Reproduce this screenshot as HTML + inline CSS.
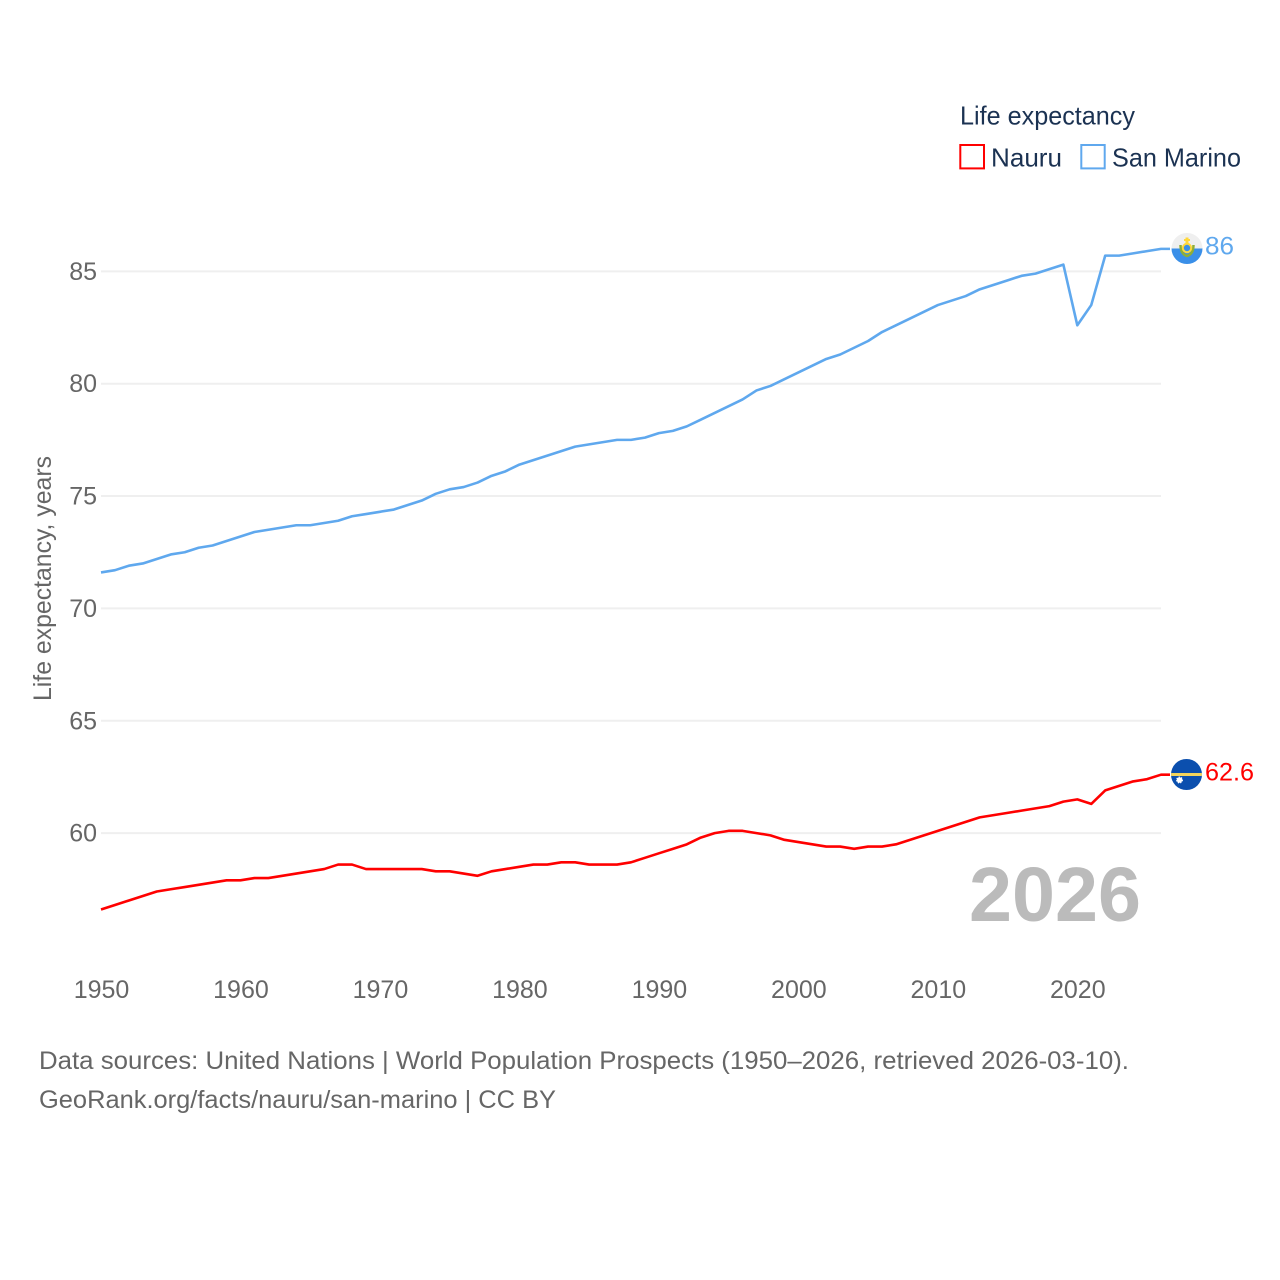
<!DOCTYPE html>
<html lang="en">
<head>
<meta charset="utf-8">
<title>Life expectancy: Nauru and San Marino</title>
<style>
html,body{margin:0;padding:0;background:#fff;}
svg{display:block;font-family:"Liberation Sans",sans-serif;}
</style>
</head>
<body>
<svg id="chart" width="1280" height="1280" viewBox="0 0 1280 1280" xmlns="http://www.w3.org/2000/svg">
  <g id="grid"></g>
  <g id="y-ticks"></g>
  <g id="x-ticks"></g>
  <text transform="translate(51,701) rotate(-90)" font-size="25" fill="#666" textLength="245" lengthAdjust="spacingAndGlyphs">Life expectancy, years</text>
  <text x="969" y="921" font-size="77" font-weight="700" fill="#bbb" textLength="172" lengthAdjust="spacingAndGlyphs">2026</text>
  <path id="line-san-marino" fill="none" stroke="#5fa8ee" stroke-width="2.6" stroke-linejoin="round"></path>
  <path id="line-nauru" fill="none" stroke="#ff0000" stroke-width="2.6" stroke-linejoin="round"></path>
  <g>
    <text x="960" y="124.500" font-size="26" fill="#1b3252" textLength="175" lengthAdjust="spacingAndGlyphs">Life expectancy</text>
    <rect x="960.300" y="145" width="23.700" height="23.400" fill="#fff" stroke="#ff0000" stroke-width="2"></rect>
    <text x="991" y="166.500" font-size="26" fill="#1b3252" textLength="71" lengthAdjust="spacingAndGlyphs">Nauru</text>
    <rect x="1081.300" y="145" width="23.400" height="23.400" fill="#fff" stroke="#5fa8ee" stroke-width="2"></rect>
    <text x="1112" y="166.500" font-size="26" fill="#1b3252" textLength="129" lengthAdjust="spacingAndGlyphs">San Marino</text>
  </g>
  <defs>
    <clipPath id="flag-clip-sm"><circle cx="1187" cy="248.500" r="15.500"></circle></clipPath>
    <clipPath id="flag-clip-nr"><circle cx="1186.500" cy="774.500" r="15.500"></circle></clipPath>
  </defs>
  <g>
    <g clip-path="url(#flag-clip-sm)">
      <rect x="1170" y="232" width="34" height="17" fill="#efefef"></rect>
      <rect x="1170" y="248.500" width="34" height="17" fill="#3a8fe8"></rect>
    </g>
    <path d="M1180.500 245 q0 9 6.500 11 q6.500 -2 6.500 -11" fill="none" stroke="#8fae35" stroke-width="2.500"></path>
    <rect x="1185.500" y="237.500" width="3" height="5.500" fill="#ffd83b"></rect>
    <rect x="1184" y="239" width="6" height="2" fill="#ffd83b"></rect>
    <circle cx="1187" cy="248" r="4.200" fill="#3a8fe8" stroke="#ffd83b" stroke-width="2"></circle>
  </g>
  <g>
    <circle cx="1186.500" cy="774.500" r="15.500" fill="#0b4fae"></circle>
    <g clip-path="url(#flag-clip-nr)">
      <rect x="1170" y="773" width="34" height="3" fill="#f2d45c"></rect>
    </g>
    <circle cx="1179.500" cy="780" r="2.800" fill="#fff" stroke="#fff" stroke-width="1.400" stroke-dasharray="1.200 1.200"></circle>
  </g>
  <text x="1205" y="254.500" font-size="25" fill="#5fa8ee" textLength="29" lengthAdjust="spacingAndGlyphs">86</text>
  <text x="1205" y="780.500" font-size="25" fill="#ff0000" textLength="49" lengthAdjust="spacingAndGlyphs">62.6</text>
  <text x="39" y="1069" font-size="25" fill="#666" textLength="1090" lengthAdjust="spacingAndGlyphs">Data sources: United Nations | World Population Prospects (1950–2026, retrieved 2026-03-10).</text>
  <text x="39" y="1108" font-size="25" fill="#666" textLength="517" lengthAdjust="spacingAndGlyphs">GeoRank.org/facts/nauru/san-marino | CC BY</text>
</svg>
<script>
const startYear = 1950;
const endYear = 2026;
const yTickValues = [60, 65, 70, 75, 80, 85];
const xTickValues = [1950, 1960, 1970, 1980, 1990, 2000, 2010, 2020];
const nauruValues = [
  56.6, 56.8, 57.0, 57.2, 57.4, 57.5, 57.6, 57.7, 57.8, 57.9,
  57.9, 58.0, 58.0, 58.1, 58.2, 58.3, 58.4, 58.6, 58.6, 58.4,
  58.4, 58.4, 58.4, 58.4, 58.3, 58.3, 58.2, 58.1, 58.3, 58.4,
  58.5, 58.6, 58.6, 58.7, 58.7, 58.6, 58.6, 58.6, 58.7, 58.9,
  59.1, 59.3, 59.5, 59.8, 60.0, 60.1, 60.1, 60.0, 59.9, 59.7,
  59.6, 59.5, 59.4, 59.4, 59.3, 59.4, 59.4, 59.5, 59.7, 59.9,
  60.1, 60.3, 60.5, 60.7, 60.8, 60.9, 61.0, 61.1, 61.2, 61.4,
  61.5, 61.3, 61.9, 62.1, 62.3, 62.4, 62.6
];
const sanMarinoValues = [
  71.6, 71.7, 71.9, 72.0, 72.2, 72.4, 72.5, 72.7, 72.8, 73.0,
  73.2, 73.4, 73.5, 73.6, 73.7, 73.7, 73.8, 73.9, 74.1, 74.2,
  74.3, 74.4, 74.6, 74.8, 75.1, 75.3, 75.4, 75.6, 75.9, 76.1,
  76.4, 76.6, 76.8, 77.0, 77.2, 77.3, 77.4, 77.5, 77.5, 77.6,
  77.8, 77.9, 78.1, 78.4, 78.7, 79.0, 79.3, 79.7, 79.9, 80.2,
  80.5, 80.8, 81.1, 81.3, 81.6, 81.9, 82.3, 82.6, 82.9, 83.2,
  83.5, 83.7, 83.9, 84.2, 84.4, 84.6, 84.8, 84.9, 85.1, 85.3,
  82.6, 83.5, 85.7, 85.7, 85.8, 85.9, 86.0
];

const SVG_NS = 'http://www.w3.org/2000/svg';
const plotLeft = 101;
const plotRight = 1161;
const lineEnd = 1170;

function xScale(year) {
  return plotLeft + (year - startYear) * (plotRight - plotLeft) / (endYear - startYear);
}
function yScale(value) {
  return 833.1 - (value - 60) * 22.47;
}
function linePath(values) {
  let d = '';
  values.forEach(function (v, i) {
    d += (i ? 'L' : 'M') + xScale(startYear + i).toFixed(2) + ' ' + yScale(v).toFixed(2);
  });
  d += 'L' + lineEnd + ' ' + yScale(values[values.length - 1]).toFixed(2);
  return d;
}

const gridGroup = document.getElementById('grid');
const yTickGroup = document.getElementById('y-ticks');
const xTickGroup = document.getElementById('x-ticks');

yTickValues.forEach(function (v) {
  const line = document.createElementNS(SVG_NS, 'line');
  
  
  line.setAttribute('x1', plotLeft);
  line.setAttribute('x2', plotRight);
  line.setAttribute('y1', yScale(v));
  line.setAttribute('y2', yScale(v));
  line.setAttribute('stroke', '#efefef');
  line.setAttribute('stroke-width', '2');
  gridGroup.appendChild(line);

  const label = document.createElementNS(SVG_NS, 'text');
  
  
  label.setAttribute('x', 97);
  label.setAttribute('y', yScale(v) + 8.5);
  label.setAttribute('text-anchor', 'end');
  label.setAttribute('font-size', '25');
  label.setAttribute('fill', '#666');
  label.textContent = String(v);
  yTickGroup.appendChild(label);
});

xTickValues.forEach(function (year) {
  const label = document.createElementNS(SVG_NS, 'text');
  
  
  label.setAttribute('x', xScale(year) + 0.5);
  label.setAttribute('y', 998);
  label.setAttribute('text-anchor', 'middle');
  label.setAttribute('font-size', '25');
  label.setAttribute('fill', '#666');
  label.textContent = String(year);
  xTickGroup.appendChild(label);
});

document.getElementById('line-nauru').setAttribute('d', linePath(nauruValues));
document.getElementById('line-san-marino').setAttribute('d', linePath(sanMarinoValues));
</script>
</body>
</html>
